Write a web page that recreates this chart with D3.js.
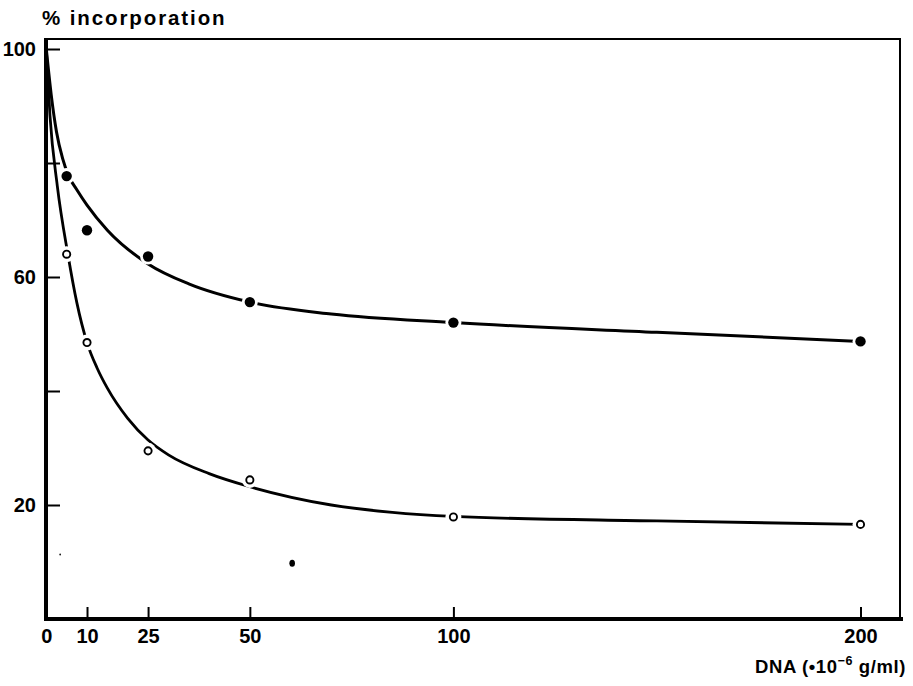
<!DOCTYPE html>
<html>
<head>
<meta charset="utf-8">
<script src="https://cdn.jsdelivr.net/npm/d3@7"></script>
<style>
  html, body { margin: 0; padding: 0; background: #fff; }
  svg { display: block; }
  text { font-family: "Liberation Sans", Arial, sans-serif; font-weight: bold; fill: #000; }
</style>
</head>
<body>
<svg id="chart" width="913" height="686"></svg>
<script>
// ---- data ----
const xTicks = [0, 10, 25, 50, 100, 200];
const yTicks = [20, 40, 60, 80, 100];
const yTickLabels = [20, 60, 100];

const doseX = [5, 10, 25, 50, 100, 200];
const filledY = [77.7, 68.2, 63.6, 55.6, 52.0, 48.7];
const openY = [64.0, 48.5, 29.5, 24.4, 17.9, 16.6];

// fitted (hand-drawn) curves
const upperCurveX = [0, 1.2, 2.5, 4, 5.5, 7.5, 10, 15, 25, 35, 50, 70, 100, 150, 200];
const upperCurveY = [100, 92, 85.5, 80.8, 77.7, 75.3, 72.6, 68.2, 62.3, 58.8, 55.6, 53.5, 52.0, 50.3, 48.7];
const lowerCurveX = [0, 0.9, 2.7, 5.3, 7.5, 10, 12.5, 15, 20, 25, 30, 40, 50, 70, 85, 100, 150, 200];
const lowerCurveY = [100, 88.3, 76, 64.0, 55.5, 48.5, 44, 40.5, 35.2, 31.4, 28.8, 25.5, 23.2, 20.0, 18.7, 18.0, 17.2, 16.6];

// stray specks on the scanned original
const speckX = [60.4, 3.4];
const speckY = [9.8, 11.3];
const speckR = [3.5, 1];

const yTitle = "% incorporation";

(function () {
// ---- drawing ----
const svg = d3.select("#chart");
const x = d3.scaleLinear().domain([0, 200]).range([46.3, 860.5]);
const y = d3.scaleLinear().domain([0, 100]).range([619, 49]);

const pLeft = 46, pRight = 900, pTop = 39, pBottom = 619;

// curves
const line = d3.line().x(d => x(d[0])).y(d => y(d[1])).curve(d3.curveMonotoneX);
const upper = d3.zip(upperCurveX, upperCurveY);
const lower = d3.zip(lowerCurveX, lowerCurveY);
svg.append("path").datum(upper).attr("d", line)
  .attr("fill", "none").attr("stroke", "#000").attr("stroke-width", 3);
svg.append("path").datum(lower).attr("d", line)
  .attr("fill", "none").attr("stroke", "#000").attr("stroke-width", 2.8);

// halos around markers (gaps in the curves)
const filled = d3.zip(doseX, filledY);
const open = d3.zip(doseX, openY);
svg.append("g").selectAll("circle").data(filled.concat(open)).join("circle")
  .attr("cx", d => x(d[0])).attr("cy", d => y(d[1])).attr("r", 8)
  .attr("fill", "#fff");

// frame
svg.append("line").attr("x1", pLeft).attr("x2", pRight + 1).attr("y1", pTop).attr("y2", pTop)
  .attr("stroke", "#000").attr("stroke-width", 2);
svg.append("line").attr("x1", pRight).attr("x2", pRight).attr("y1", pTop).attr("y2", pBottom)
  .attr("stroke", "#000").attr("stroke-width", 2);

// axes
const yAxis = d3.axisLeft(y).tickValues(yTicks).tickSize(-14).tickPadding(10)
  .tickFormat(d => yTickLabels.includes(d) ? d : "");
const gy = svg.append("g").attr("transform", `translate(${pLeft},0)`).call(yAxis);
gy.select(".domain").remove();
gy.selectAll(".tick line").attr("stroke", "#000").attr("stroke-width", 2);
gy.selectAll(".tick text").attr("font-size", 20).attr("font-family", "Liberation Sans").attr("font-weight", "bold").attr("fill", "#000");

const xAxis = d3.axisBottom(x).tickValues(xTicks).tickSize(-12).tickPadding(10);
const gx = svg.append("g").attr("transform", `translate(0,${pBottom})`).call(xAxis);
gx.select(".domain").remove();
gx.selectAll(".tick line").attr("stroke", "#000").attr("stroke-width", 2);
gx.selectAll(".tick text").attr("font-size", 20).attr("font-family", "Liberation Sans").attr("font-weight", "bold").attr("fill", "#000");

svg.append("line").attr("x1", pLeft).attr("x2", pLeft).attr("y1", pTop - 1).attr("y2", pBottom + 2)
  .attr("stroke", "#000").attr("stroke-width", 4);
svg.append("line").attr("x1", pLeft - 2).attr("x2", pRight + 3).attr("y1", pBottom).attr("y2", pBottom)
  .attr("stroke", "#000").attr("stroke-width", 4);

// markers
svg.append("g").selectAll("circle").data(filled).join("circle")
  .attr("cx", d => x(d[0])).attr("cy", d => y(d[1])).attr("r", 5.2)
  .attr("fill", "#000");
svg.append("g").selectAll("circle").data(open).join("circle")
  .attr("cx", d => x(d[0])).attr("cy", d => y(d[1])).attr("r", 3.6)
  .attr("fill", "#fff").attr("stroke", "#000").attr("stroke-width", 1.9);

// specks
svg.append("g").selectAll("ellipse").data(d3.zip(speckX, speckY, speckR)).join("ellipse")
  .attr("cx", d => x(d[0])).attr("cy", d => y(d[1]))
  .attr("rx", d => d[2] * 0.8).attr("ry", d => d[2])
  .attr("fill", "#000");

// titles
svg.append("text").attr("x", 42).attr("y", 25).attr("font-size", 20.5)
  .attr("letter-spacing", 1.9).text(yTitle);

const xt = svg.append("text").attr("x", 906).attr("y", 673).attr("text-anchor", "end")
  .attr("font-size", 18.5).attr("letter-spacing", 0.6);
xt.append("tspan").text("DNA (\u202210");
xt.append("tspan").attr("font-size", 12.5).attr("dy", -8).text("\u22126");
xt.append("tspan").attr("dy", 8).text(" g/ml)");
})();
</script>
</body>
</html>
